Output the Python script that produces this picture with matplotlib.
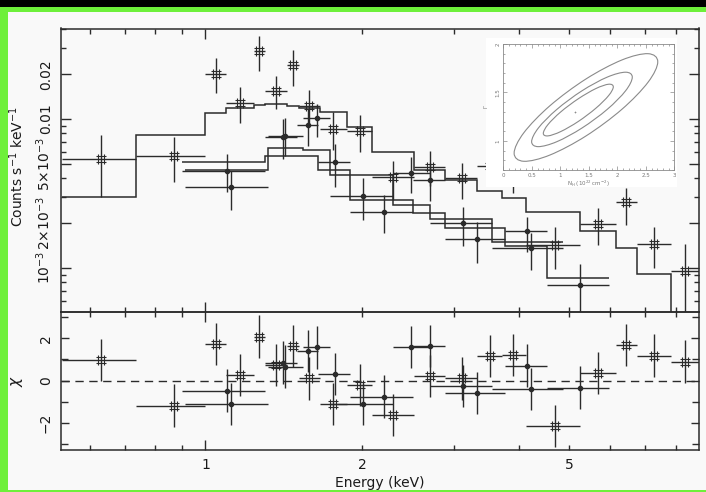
import numpy as np
import matplotlib
matplotlib.use("Agg")
import matplotlib.pyplot as plt
from matplotlib.patches import Rectangle, PathPatch
from matplotlib.path import Path

# open-square spectrum: bin edges (keV), bin centres, rate with 1-sigma range, model, residuals
sq_edges = [0.53, 0.736, 1.0, 1.096, 1.239, 1.302, 1.433, 1.514, 1.661, 1.869, 2.087,
            2.512, 2.887, 3.322, 3.710, 4.130, 5.245, 6.143, 6.742, 7.844, 8.95]
sq_e = [0.631, 0.870, 1.049, 1.166, 1.270, 1.367, 1.472, 1.584, 1.762, 1.982,
        2.297, 2.696, 3.109, 3.524, 3.904, 4.691, 5.686, 6.439, 7.285, 8.346]
sq_rate = [0.005383, 0.005665, 0.02017, 0.01281, 0.02853, 0.0155, 0.02307, 0.01217, 0.008632, 0.008343,
           0.004093, 0.004777, 0.003992, 0.004852, 0.004401, 0.001421, 0.001976, 0.002753, 0.001443, 0.000954]
sq_hi = [0.007806, 0.007532, 0.0256, 0.01634, 0.03632, 0.01955, 0.02924, 0.01567, 0.01106, 0.01064,
         0.005243, 0.00612, 0.005083, 0.006187, 0.005726, 0.001869, 0.002509, 0.003462, 0.001887, 0.001443]
sq_lo = [0.003003, 0.003788, 0.01503, 0.009356, 0.02093, 0.01167, 0.01675, 0.009114, 0.006235, 0.006026,
         0.002874, 0.003543, 0.002884, 0.003655, 0.003179, 0.000975, 0.001421, 0.001937, 0.000991, 0.0003]
sq_model = [0.003003, 0.007842, 0.01092, 0.0118, 0.01242, 0.01262, 0.01229, 0.01186, 0.01115, 0.008875,
            0.00597, 0.004539, 0.003889, 0.003294, 0.002957, 0.002369, 0.001765, 0.001351, 0.000907, 0.0004]
sq_chi = [0.98, -1.18, 1.72, 0.27, 2.08, 0.74, 1.65, 0.11, -1.10, -0.20,
          -1.62, 0.22, 0.11, 1.17, 1.21, -2.14, 0.35, 1.68, 1.18, 0.90]

# first filled-dot spectrum
a_edges = [0.901, 1.302, 1.498, 1.648, 1.897, 2.51, 2.887, 3.765, 4.528, 5.971]
a_e = [1.102, 1.408, 1.572, 1.775, 2.207, 2.702, 3.322, 4.143, 5.245]
a_rate = [0.00449, 0.007532, 0.009155, 0.005115, 0.002358, 0.003889, 0.00156, 0.001765, 0.000765]
a_hi = [0.005816, 0.01, 0.01167, 0.006791, 0.003083, 0.005036, 0.002039, 0.002203, 0.001054]
a_lo = [0.003214, 0.005383, 0.006553, 0.003473, 0.001719, 0.002823, 0.00107, 0.001281, 0.0004]
a_model = [0.005115, 0.005665, 0.005639, 0.004575, 0.002852, 0.002333, 0.001835, 0.00141, 0.000859]
a_chi = [-0.47, 0.85, 1.40, 0.32, -0.75, 1.65, -0.57, 0.71, -0.33]

# second filled-dot spectrum
b_edges = [0.914, 1.318, 1.543, 1.736, 2.297, 2.702, 3.550, 4.872]
b_e = [1.119, 1.423, 1.641, 2.006, 2.485, 3.123, 4.217]
b_rate = [0.003473, 0.007722, 0.0102, 0.003036, 0.004355, 0.001989, 0.001351]
b_hi = [0.00449, 0.01016, 0.01262, 0.003992, 0.005527, 0.002572, 0.001703]
b_lo = [0.002443, 0.005639, 0.007532, 0.002093, 0.003164, 0.0014, 0.000965]
b_model = [0.004539, 0.006353, 0.006187, 0.004201, 0.002641, 0.002126, 0.001489]
b_chi = [-1.10, 0.66, 1.57, -1.10, 1.60, -0.25, -0.39]

# confidence contours, N_H (1e22 cm^-2) vs photon index, as closed outlines
c_outer_nh = [2.71, 2.54, 2.08, 1.45, 0.82, 0.36, 0.19, 0.36, 0.82, 1.45, 2.08, 2.54]
c_outer_g = [1.816, 1.900, 1.835, 1.639, 1.364, 1.084, 0.874, 0.790, 0.855, 1.051, 1.326, 1.606]
c_mid_nh = [2.263, 2.145, 1.822, 1.38, 0.939, 0.615, 0.497, 0.615, 0.939, 1.38, 1.822, 2.145]
c_mid_g = [1.658, 1.709, 1.658, 1.517, 1.325, 1.133, 0.992, 0.941, 0.992, 1.133, 1.325, 1.517]
c_in_nh = [1.93, 1.848, 1.623, 1.316, 1.009, 0.784, 0.702, 0.784, 1.009, 1.316, 1.623, 1.848]
c_in_g = [1.558, 1.585, 1.540, 1.435, 1.300, 1.169, 1.078, 1.052, 1.097, 1.201, 1.337, 1.468]
best_nh, best_g = 1.26, 1.30

INK = "#2b2b2b"
W, H = 706, 492

# square symbol with sides running past the corners
hash_marker = Path(
    [(-0.5, -0.32), (0.5, -0.32), (-0.5, 0.32), (0.5, 0.32),
     (-0.32, -0.5), (-0.32, 0.5), (0.32, -0.5), (0.32, 0.5)],
    [Path.MOVETO, Path.LINETO] * 4)

fig = plt.figure(figsize=(W / 100, H / 100), dpi=100, facecolor="black")
fig.patches.append(Rectangle((0, 0), 1, (H - 7) / H, transform=fig.transFigure,
                             facecolor="#6ef03a", edgecolor="none", zorder=-3))
fig.patches.append(Rectangle((8 / W, 2 / H), 1, (H - 14) / H, transform=fig.transFigure,
                             facecolor="#f9f9f9", edgecolor="none", zorder=-2))


def fax(x0, y0, x1, y1):
    return [x0 / W, (H - y1) / H, (x1 - x0) / W, (y1 - y0) / H]


ax = fig.add_axes(fax(61, 28.5, 699, 312))
axr = fig.add_axes(fax(61, 312, 699, 450), sharex=ax)
for a in (ax, axr):
    a.set_facecolor("none")
    for s in a.spines.values():
        s.set_color(INK)
        s.set_linewidth(1.1)


def draw_set(edges, e, rate, lo, hi, model, chi, dots):
    e = np.asarray(e)
    edges = np.asarray(edges)
    xerr = [e - edges[:-1], edges[1:] - e]
    rate = np.asarray(rate)
    yerr = [rate - np.asarray(lo), np.asarray(hi) - rate]
    kw = dict(fmt="none", ecolor=INK, elinewidth=1.0, capsize=0)
    ax.errorbar(e, rate, xerr=xerr, yerr=yerr, **kw)
    ax.stairs(model, edges, baseline=None, color=INK, lw=1.1)
    axr.errorbar(e, chi, xerr=xerr, yerr=1.0, **kw)
    if dots:
        mk = dict(marker="o", ms=3.0, mfc=INK, mec=INK, ls="none")
    else:
        mk = dict(marker=hash_marker, ms=7.5, mfc="none", mec=INK, mew=0.8, ls="none")
    ax.plot(e, rate, **mk)
    axr.plot(e, chi, **mk)


draw_set(sq_edges, sq_e, sq_rate, sq_lo, sq_hi, sq_model, sq_chi, False)
draw_set(a_edges, a_e, a_rate, a_lo, a_hi, a_model, a_chi, True)
draw_set(b_edges, b_e, b_rate, b_lo, b_hi, b_model, b_chi, True)
axr.axhline(0, color=INK, lw=1.0, ls=(0, (6, 4)))

ax.set_xscale("log")
ax.set_yscale("log")
ax.set_xlim(0.528, 8.876)
ax.set_ylim(5.036e-4, 0.04061)
axr.set_ylim(-3.27, 3.24)

tick_kw = dict(direction="in", top=True, right=True, color=INK, labelcolor="#1a1a1a",
               labelsize=10)
for a in (ax, axr):
    a.tick_params(which="both", **tick_kw)
    a.tick_params(which="major", length=7, width=1.0)
    a.tick_params(which="minor", length=3.5, width=1.0)

ax.xaxis.set_major_locator(matplotlib.ticker.FixedLocator([1, 2, 5]))
ax.xaxis.set_minor_locator(matplotlib.ticker.FixedLocator([0.6, 0.7, 0.8, 0.9, 3, 4, 6, 7, 8]))
ax.xaxis.set_minor_formatter(matplotlib.ticker.NullFormatter())
axr.set_xticklabels(["1", "2", "5"])
ax.tick_params(axis="x", labelbottom=False)
axr.tick_params(axis="x", pad=6)
for a in (ax, axr):
    ticks = a.xaxis.get_major_ticks()
    for t in ticks[1:]:
        t.tick1line.set_markersize(3.5)
        t.tick2line.set_markersize(3.5)

ax.yaxis.set_major_locator(matplotlib.ticker.FixedLocator([1e-3, 2e-3, 5e-3, 1e-2, 2e-2]))
ax.yaxis.set_minor_locator(matplotlib.ticker.FixedLocator(
    [6e-4, 7e-4, 8e-4, 9e-4, 3e-3, 4e-3, 6e-3, 7e-3, 8e-3, 9e-3, 3e-2, 4e-2]))
ax.yaxis.set_minor_formatter(matplotlib.ticker.NullFormatter())
ax.set_yticklabels([r"$10^{-3}$", r"$2{\times}10^{-3}$", r"$5{\times}10^{-3}$", "0.01", "0.02"],
                   rotation=90, va="center")
for i in (1, 2, 4):
    t = ax.yaxis.get_major_ticks()[i]
    t.tick1line.set_markersize(3.5)
    t.tick2line.set_markersize(3.5)
ax.tick_params(axis="y", pad=6)

axr.yaxis.set_major_locator(matplotlib.ticker.FixedLocator([-2, 0, 2]))
axr.yaxis.set_minor_locator(matplotlib.ticker.FixedLocator([-3, -1, 1, 3]))
axr.set_yticklabels(["\u22122", "0", "2"], rotation=90, va="center")
axr.tick_params(axis="y", which="major", length=6, pad=6)
axr.tick_params(axis="y", which="minor", length=5)

fig.text(17 / W, 1 - 167 / H, r"Counts s$^{-1}$ keV$^{-1}$", rotation=90,
         ha="center", va="center", fontsize=10, color="#1a1a1a")
fig.text(17 / W, 1 - 381 / H, r"$\chi$", rotation=90, ha="center", va="center",
         fontsize=11, color="#1a1a1a")
fig.text(380 / W, 1 - 483 / H, "Energy (keV)", ha="center", va="center",
         fontsize=10, color="#1a1a1a")

# inset: confidence contours
bg = fig.add_axes(fax(486, 38.3, 677.3, 186.7))
bg.set_facecolor("white")
bg.set_xticks([])
bg.set_yticks([])
for s in bg.spines.values():
    s.set_visible(False)

GREY = "#8a8a8a"
ins = fig.add_axes(fax(503.3, 44, 674.3, 170))
ins.set_facecolor("white")
for s in ins.spines.values():
    s.set_color(GREY)
    s.set_linewidth(0.6)


def closed_curve(xs, ys):
    # Catmull-Rom through the outline points, written as cubic Bezier pieces
    p = np.column_stack([xs, ys])
    n = len(p)
    verts = [p[0]]
    codes = [Path.MOVETO]
    for i in range(n):
        p0, p1, p2, p3 = p[i - 1], p[i], p[(i + 1) % n], p[(i + 2) % n]
        verts += [p1 + (p2 - p0) / 6, p2 - (p3 - p1) / 6, p2]
        codes += [Path.CURVE4] * 3
    return Path(verts, codes)


for nh, g in ((c_outer_nh, c_outer_g), (c_mid_nh, c_mid_g), (c_in_nh, c_in_g)):
    ins.add_patch(PathPatch(closed_curve(nh, g), facecolor="none", edgecolor=GREY, lw=0.8))
ins.plot([best_nh], [best_g], marker="+", ms=2, color=GREY, mew=0.5)
ins.set_xlim(0, 3)
ins.set_ylim(0.7, 2.0)
ins.set_xticks([0, 0.5, 1, 1.5, 2, 2.5, 3])
ins.set_xticklabels(["0", "0.5", "1", "1.5", "2", "2.5", "3"])
ins.set_xticks(np.arange(0, 3.01, 0.1), minor=True)
ins.set_yticks([1, 1.5, 2])
ins.set_yticklabels(["1", "1.5", "2"], rotation=90, va="center")
ins.set_yticks(np.arange(0.7, 2.001, 0.1), minor=True)
ins.tick_params(which="both", direction="in", top=True, right=True, color=GREY,
                labelcolor="#777777", labelsize=4, width=0.5, pad=2)
ins.tick_params(which="major", length=3)
ins.tick_params(which="minor", length=1.5)
ins.set_xlabel(r"N$_{\rm H}$ (10$^{22}$ cm$^{-2}$)", fontsize=4, color="#777777", labelpad=1)
ins.set_ylabel(r"$\Gamma$", fontsize=4, color="#777777", labelpad=4)

fig.savefig("out.png", dpi=100, facecolor=fig.get_facecolor())
